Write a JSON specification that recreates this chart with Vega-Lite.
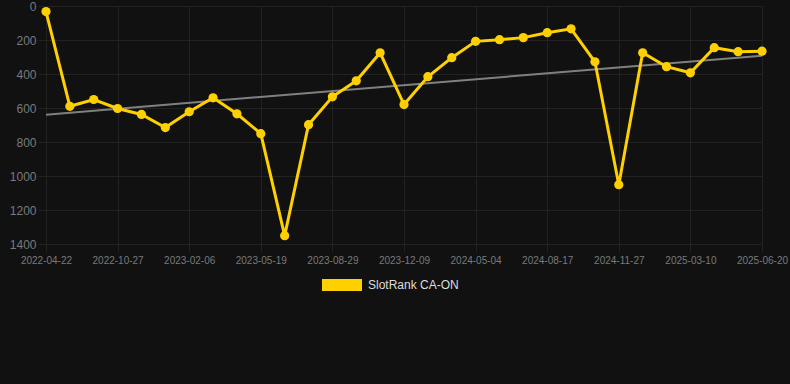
{
  "$schema": "https://vega.github.io/schema/vega-lite/v6.json",
  "width": 744,
  "height": 238,
  "autosize": {"type": "none"},
  "padding": {"left": 46, "top": 6, "right": 0, "bottom": 140},
  "background": "#111111",
  "config": {
    "view": {"stroke": null},
    "font": "Liberation Sans",
    "axis": {"gridColor": "#222222", "gridWidth": 1, "domain": false, "ticks": true, "tickColor": "#222222", "tickSize": 8, "labelColor": "#7a7a7a"}
  },
  "datasets": {
    "rank": [
      {"date": "2022-04-22", "rank": 33},
      {"date": "2022-06-25", "rank": 590},
      {"date": "2022-08-26", "rank": 550},
      {"date": "2022-10-27", "rank": 603},
      {"date": "2022-11-30", "rank": 638},
      {"date": "2023-01-03", "rank": 715},
      {"date": "2023-02-06", "rank": 622},
      {"date": "2023-03-11", "rank": 540},
      {"date": "2023-04-15", "rank": 634},
      {"date": "2023-05-19", "rank": 751},
      {"date": "2023-06-22", "rank": 1351},
      {"date": "2023-07-26", "rank": 698},
      {"date": "2023-08-29", "rank": 534},
      {"date": "2023-10-02", "rank": 440},
      {"date": "2023-11-05", "rank": 275},
      {"date": "2023-12-09", "rank": 580},
      {"date": "2024-01-26", "rank": 416},
      {"date": "2024-03-17", "rank": 304},
      {"date": "2024-05-04", "rank": 208},
      {"date": "2024-06-07", "rank": 198},
      {"date": "2024-07-12", "rank": 186},
      {"date": "2024-08-17", "rank": 157},
      {"date": "2024-09-20", "rank": 134},
      {"date": "2024-10-24", "rank": 328},
      {"date": "2024-11-27", "rank": 1051},
      {"date": "2024-12-31", "rank": 275},
      {"date": "2025-02-03", "rank": 357},
      {"date": "2025-03-10", "rank": 393},
      {"date": "2025-04-13", "rank": 245},
      {"date": "2025-05-17", "rank": 269},
      {"date": "2025-06-20", "rank": 266}
    ],
    "trend": [
      {"date": "2022-04-22", "rank": 639},
      {"date": "2025-06-20", "rank": 292}
    ]
  },
  "encoding": {
    "x": {
      "field": "date", "type": "ordinal", "sort": "ascending",
      "scale": {"type": "point", "padding": 0, "range": [0, 716]},
      "axis": {
        "title": null, "labelAngle": 0, "labelAlign": "center", "labelBaseline": "top",
        "labelFontSize": 10, "labelPadding": 3, "labelOverlap": false, "grid": true,
        "values": ["2022-04-22", "2022-10-27", "2023-02-06", "2023-05-19", "2023-08-29", "2023-12-09", "2024-05-04", "2024-08-17", "2024-11-27", "2025-03-10", "2025-06-20"]
      }
    },
    "y": {
      "field": "rank", "type": "quantitative",
      "scale": {"domain": [0, 1400], "reverse": true, "nice": false, "zero": false},
      "axis": {"title": null, "values": [0, 200, 400, 600, 800, 1000, 1200, 1400], "tickCount": 8, "format": "d", "labelOverlap": false, "labelFontSize": 12, "labelPadding": 2, "grid": true}
    }
  },
  "layer": [
    {
      "data": {"name": "trend"},
      "mark": {"type": "line", "color": "#808080", "strokeWidth": 2}
    },
    {
      "data": {"name": "rank"},
      "mark": {"type": "line", "color": "#ffd000", "strokeWidth": 3}
    },
    {
      "data": {"name": "rank"},
      "mark": {"type": "point", "filled": true, "size": 85, "opacity": 1},
      "encoding": {
        "color": {
          "field": "series", "type": "nominal",
          "scale": {"domain": ["SlotRank CA-ON"], "range": ["#ffd000"]},
          "legend": {
            "title": null, "orient": "none", "legendX": 276, "legendY": 259, "padding": 0,
            "symbolType": "M-1,-0.3H1V0.3H-1Z", "symbolSize": 1600, "symbolStrokeWidth": 0,
            "labelColor": "#dddddd", "labelFontSize": 12, "labelOffset": 6
          }
        }
      },
      "transform": [{"calculate": "'SlotRank CA-ON'", "as": "series"}]
    }
  ]
}
